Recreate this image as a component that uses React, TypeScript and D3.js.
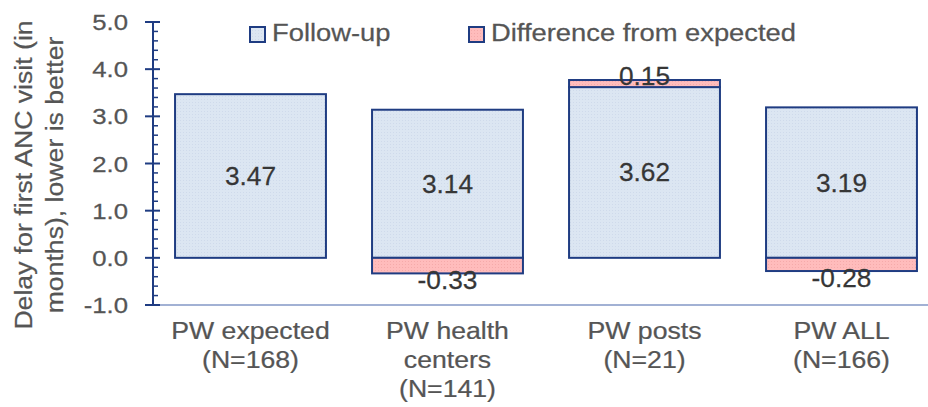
import React from "react";
import * as d3 from "d3";

const categories: string[][] = [
  ["PW expected", "(N=168)"],
  ["PW health", "centers", "(N=141)"],
  ["PW posts", "(N=21)"],
  ["PW ALL", "(N=166)"],
];
const followUp: number[] = [3.47, 3.14, 3.62, 3.19];
const difference: (number | null)[] = [null, -0.33, 0.15, -0.28];
const yTicks: number[] = [-1, 0, 1, 2, 3, 4, 5];
const seriesNames: string[] = ["Follow-up", "Difference from expected"];
const yTitle: string[] = ["Delay for first ANC visit (in", "months), lower is better"];

const W = 928;
const H = 407;
const FONT = "'Liberation Sans', Arial, sans-serif";
const NAVY = "#1f3c82";
const BLUE_FILL = "#dce6f2";
const PINK_FILL = "#ffbcbc";
const GREY = "#555555";
const DARK = "#363636";

function SText(props: {
  x: number;
  y: number;
  sx?: number;
  rotate?: number;
  anchor?: string;
  size: number;
  fill: string;
  children: React.ReactNode;
}) {
  const { x, y, sx = 1.1, rotate = 0, anchor = "middle", size, fill, children } = props;
  return (
    <text
      transform={`translate(${x},${y}) rotate(${rotate}) scale(${sx},1)`}
      textAnchor={anchor}
      fontFamily={FONT}
      fontSize={size}
      fill={fill}
      stroke={fill}
      strokeWidth={0.25}
    >
      {children}
    </text>
  );
}

export default function App() {
  const idx = categories.map((_, i) => String(i));
  const x = d3
    .scaleBand<string>()
    .domain(idx)
    .range([152, 940])
    .paddingInner(0.234)
    .paddingOuter(0.117);
  const y = d3.scaleLinear().domain([-1, 5]).range([305, 22]);
  const minor = d3.range(-1, 5.0001, 0.2).filter((v) => Math.abs(v - Math.round(v)) > 1e-6);
  const axisX = 153;
  const bw = x.bandwidth();
  const f1 = (v: number) => v.toFixed(1);
  const f2 = (v: number) => v.toFixed(2);

  return (
    <svg
      width={W}
      height={H}
      viewBox={`0 0 ${W} ${H}`}
      style={{ position: "absolute", left: 0, top: 0, background: "#fff" }}
    >
      <defs>
        <pattern id="dots" width="3" height="3" patternUnits="userSpaceOnUse">
          <rect width="3" height="3" fill={BLUE_FILL} />
          <rect width="1" height="1" fill="#cfdaeb" />
        </pattern>
        <pattern id="dotsPink" width="3" height="3" patternUnits="userSpaceOnUse">
          <rect width="3" height="3" fill={PINK_FILL} />
          <rect width="1" height="1" fill="#f5aaaa" />
        </pattern>
      </defs>

      {/* Y axis title */}
      {yTitle.map((t, i) => (
        <SText key={t} x={32 + i * 31} y={175} rotate={-90} size={24} fill={GREY} sx={1.11}>
          {t}
        </SText>
      ))}

      {/* bars */}
      {followUp.map((v, i) => {
        const x0 = x(String(i))!;
        return (
          <rect
            key={"f" + i}
            x={x0}
            y={y(v)}
            width={bw}
            height={y(0) - y(v)}
            fill="url(#dots)"
            stroke={NAVY}
            strokeWidth={2}
          />
        );
      })}
      {difference.map((d, i) => {
        if (d === null) return null;
        const x0 = x(String(i))!;
        const a = d > 0 ? followUp[i] : 0;
        const b = d > 0 ? followUp[i] + d : d;
        const top = y(Math.max(a, b));
        const bot = y(Math.min(a, b));
        return (
          <rect
            key={"d" + i}
            x={x0}
            y={top}
            width={bw}
            height={bot - top}
            fill="url(#dotsPink)"
            stroke={NAVY}
            strokeWidth={2}
          />
        );
      })}

      {/* bottom axis line */}
      <line x1={axisX} x2={W} y1={y(-1)} y2={y(-1)} stroke="#8397c6" strokeWidth={1.5} />

      {/* y axis */}
      <line x1={axisX} x2={axisX} y1={y(5)} y2={y(-1)} stroke={NAVY} strokeWidth={2} />
      {yTicks.map((t) => (
        <line key={"mj" + t} x1={145} x2={160} y1={y(t)} y2={y(t)} stroke={NAVY} strokeWidth={2} />
      ))}
      {minor.map((t) => (
        <line key={"mn" + t} x1={axisX} x2={158} y1={y(t)} y2={y(t)} stroke={NAVY} strokeWidth={1.5} />
      ))}
      {yTicks.map((t) => (
        <SText key={"tl" + t} x={128} y={y(t) + 8} anchor="end" size={22} fill={GREY} sx={1.17}>
          {f1(t)}
        </SText>
      ))}

      {/* value labels */}
      {followUp.map((v, i) => (
        <SText
          key={"vl" + i}
          x={x(String(i))! + bw / 2}
          y={(y(v) + y(0)) / 2 + 9}
          size={25}
          fill={DARK}
          sx={1.05}
        >
          {f2(v)}
        </SText>
      ))}
      {difference.map((d, i) => {
        if (d === null) return null;
        const cx = x(String(i))! + bw / 2;
        const yy = d > 0 ? y(followUp[i] + d) + 5 : y(d) + 16;
        return (
          <SText key={"dl" + i} x={cx} y={yy} size={25} fill={DARK} sx={1.05}>
            {f2(d)}
          </SText>
        );
      })}

      {/* category labels */}
      {categories.map((lines, i) => (
        <g key={"c" + i}>
          {lines.map((l, j) => (
            <SText
              key={l}
              x={x(String(i))! + bw / 2}
              y={339 + j * 29}
              size={24}
              fill={GREY}
              sx={1.11}
            >
              {l}
            </SText>
          ))}
        </g>
      ))}

      {/* legend */}
      {seriesNames.map((s, i) => {
        const lx = i === 0 ? 250 : 469;
        return (
          <g key={s}>
            <rect
              x={lx}
              y={27}
              width={15}
              height={15}
              fill={i === 0 ? "url(#dots)" : "url(#dotsPink)"}
              stroke={NAVY}
              strokeWidth={2}
            />
            <SText x={lx + 22} y={41} anchor="start" size={24} fill={GREY} sx={1.14}>
              {s}
            </SText>
          </g>
        );
      })}
    </svg>
  );
}
